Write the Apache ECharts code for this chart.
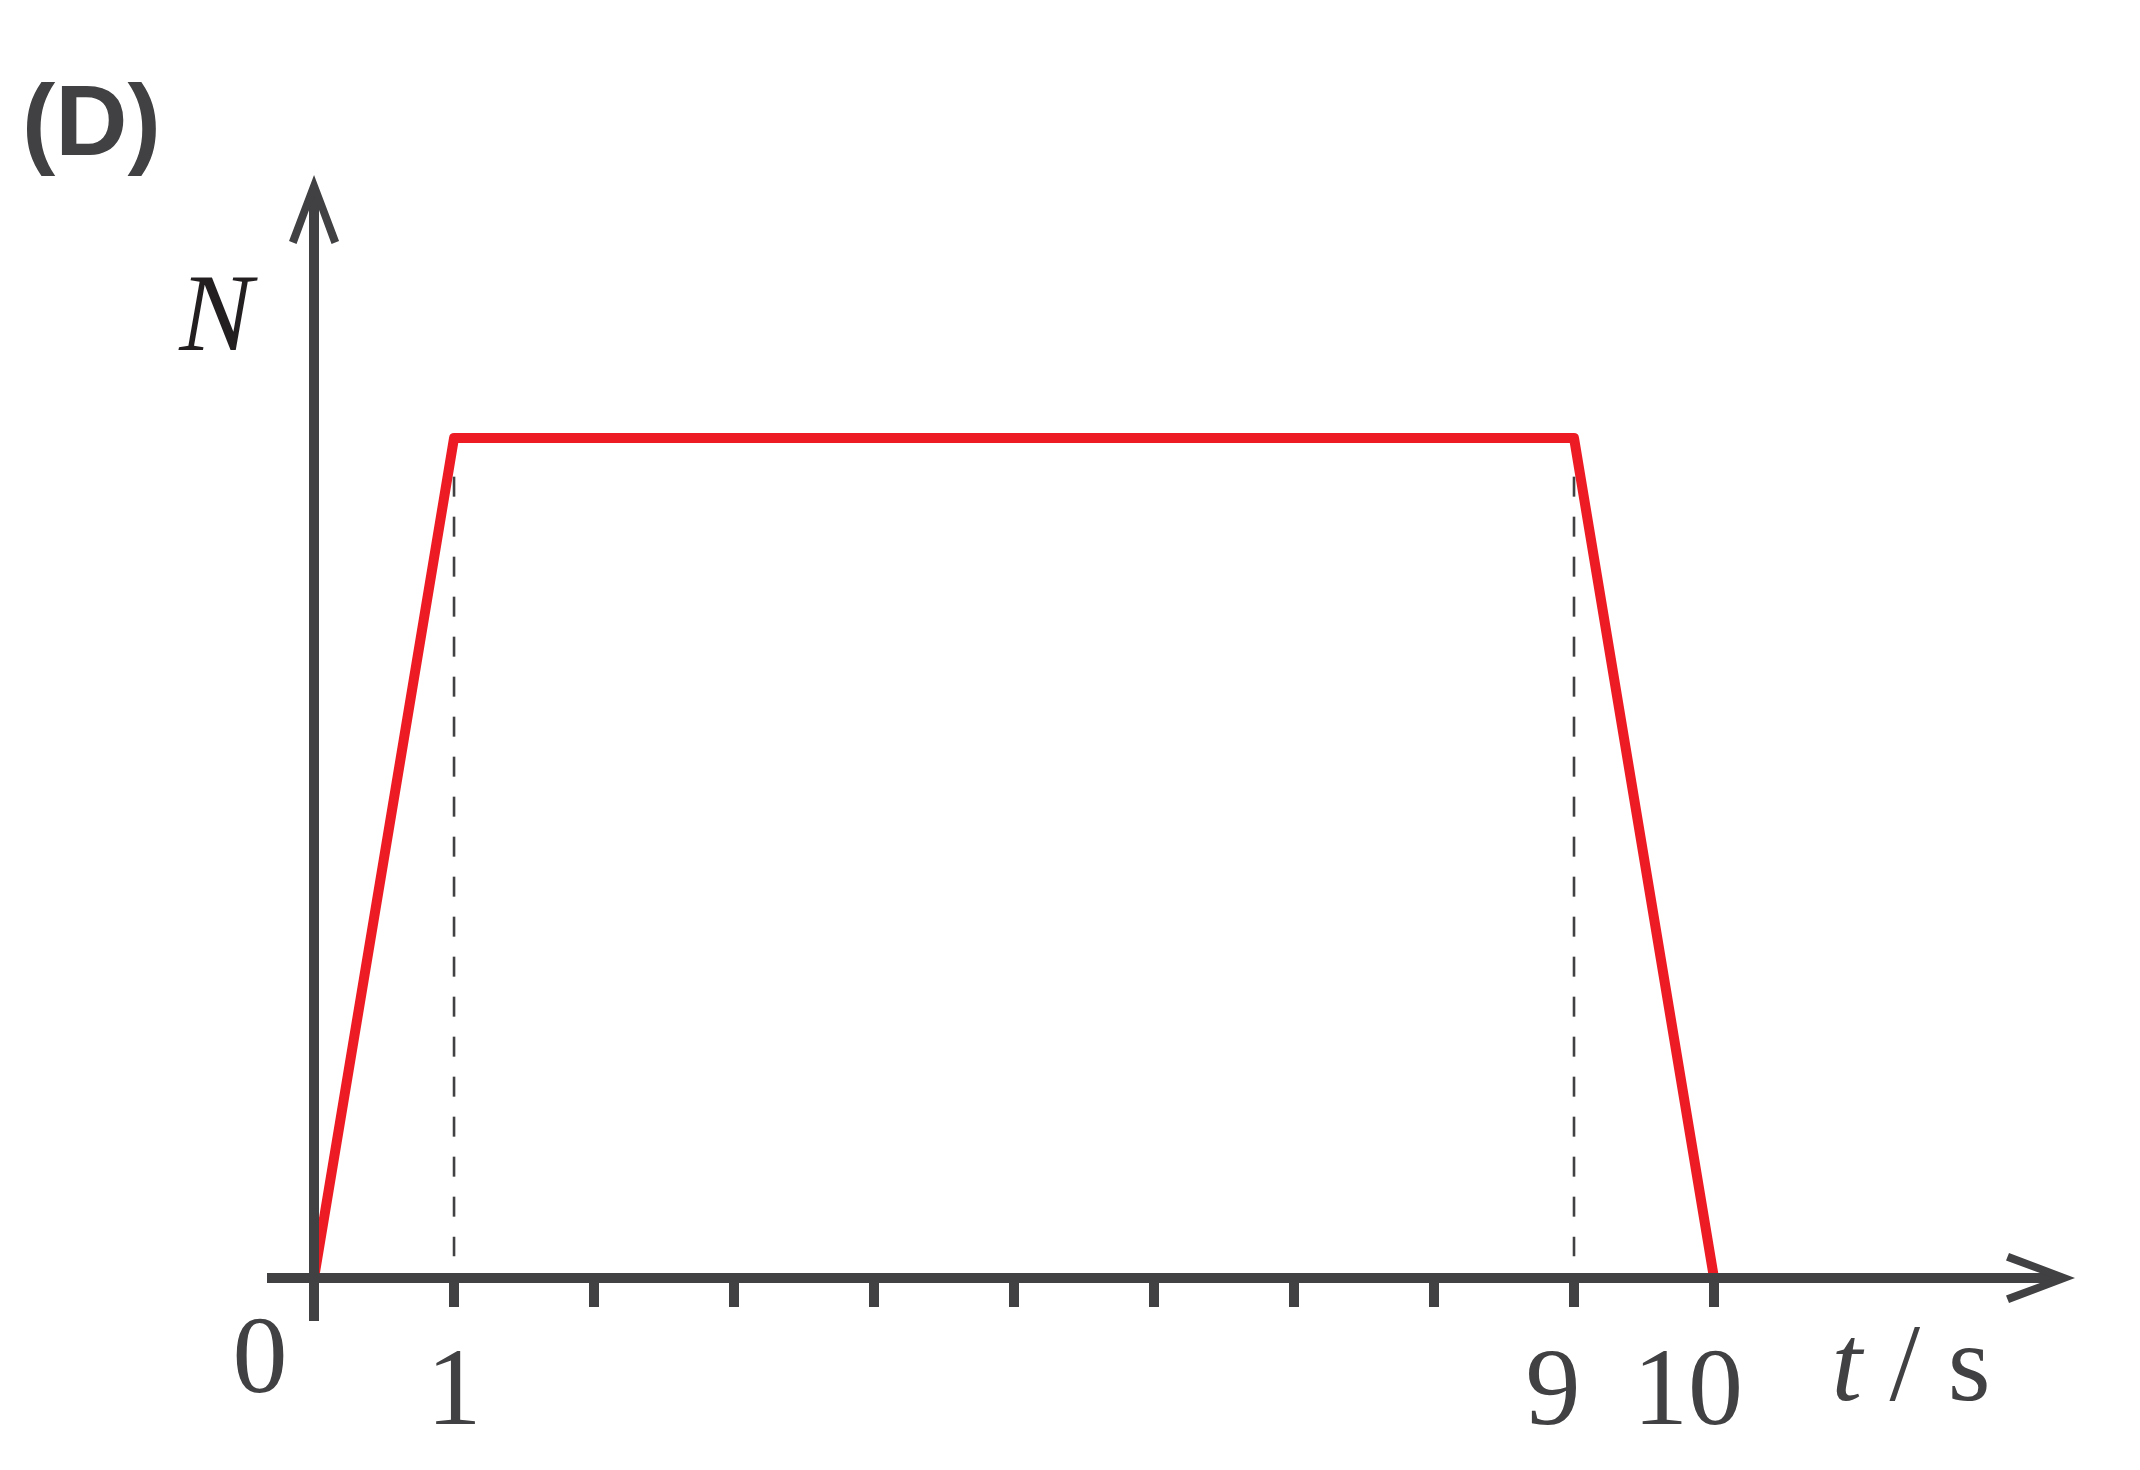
<!DOCTYPE html>
<html><head><meta charset="utf-8">
<script src="https://cdn.jsdelivr.net/npm/echarts@6/dist/echarts.min.js"></script>
<style>html,body{margin:0;padding:0;background:#fff}#c{width:2140px;height:1470px}</style>
</head><body><div id="c"></div>
<script>
// ---- data ----
const timeS = [0, 1, 9, 10];          // t / s
const forceN = [0, 1, 1, 0];          // N (relative)
const dashX = [1, 9];                 // dashed guide positions
const dashTop = 0.954;
const dashBottom = 0.026;
const tickValues = [1, 2, 3, 4, 5, 6, 7, 8, 9, 10];
const labelValues = [0, 1, 9, 10];
const xRange = [-0.336, 12.45];
const yRange = [-0.0512, 1.2917];

const gray = '#414042';
const red = '#ed1c24';
const serif = '"Liberation Serif", "Times New Roman", Times, serif';
const sans = '"Liberation Sans", Arial, Helvetica, sans-serif';
const chevron = 'path://M25,0 L50,66 L42.5,69 L25,21.5 L7.5,69 L0,66 Z';

const redData = timeS.map((t, i) => [t, forceN[i]]);
const dashSeries = dashX.map(x => ({
  type: 'line', data: [[x, dashTop], [x, dashBottom]], symbol: 'none', silent: true, z: 1,
  lineStyle: { color: gray, width: 2.6, type: [20, 20] }
}));

const labelKey = { 0: 'z', 1: 'a', 9: 'b', 10: 'c' };

const chart = echarts.init(document.getElementById('c'), null, { renderer: 'canvas' });
chart.setOption({
  animation: false,
  backgroundColor: '#fff',
  title: {
    text: '(D)', left: 17, top: 72,
    textStyle: { fontFamily: sans, fontWeight: 'bold', fontSize: 100, color: gray }
  },
  grid: { left: 267, right: 83, top: 193, bottom: 149, containLabel: false, outerBoundsMode: 'none' },
  xAxis: {
    type: 'value', min: xRange[0], max: xRange[1], z: 3,
    name: '{i|t} / s', nameLocation: 'end', nameGap: -146,
    nameTextStyle: { fontFamily: serif, fontSize: 110, color: gray, align: 'center', verticalAlign: 'middle',
      padding: [186, 0, 0, 0],
      rich: { i: { fontFamily: serif, fontStyle: 'italic', fontSize: 110, color: gray } } },
    axisLine: { onZero: true, lineStyle: { color: gray, width: 10, cap: 'butt' },
      symbol: ['none', chevron], symbolSize: [50, 69], symbolOffset: [0, -16.5] },
    axisTick: { show: true, customValues: tickValues, length: 29, lineStyle: { color: gray, width: 10, cap: 'butt' } },
    axisLabel: {
      show: true, customValues: labelValues, margin: 19, hideOverlap: false,
      formatter: v => '{' + labelKey[v] + '|' + v + '}',
      rich: {
        z: { fontFamily: serif, fontSize: 110, color: gray, lineHeight: 46, padding: [0, 108, 0, 0] },
        a: { fontFamily: serif, fontSize: 110, color: gray, lineHeight: 110 },
        b: { fontFamily: serif, fontSize: 110, color: gray, lineHeight: 110, padding: [0, 42, 0, 0] },
        c: { fontFamily: serif, fontSize: 110, color: gray, lineHeight: 110, padding: [0, 52, 0, 0] }
      }
    },
    splitLine: { show: false }
  },
  yAxis: {
    type: 'value', min: yRange[0], max: yRange[1], z: 3,
    name: 'N', nameLocation: 'end', nameGap: -128,
    nameTextStyle: { fontFamily: serif, fontStyle: 'italic', fontSize: 110, color: '#231f20',
      align: 'center', verticalAlign: 'middle', padding: [0, 196, 0, 0] },
    axisLine: { onZero: true, lineStyle: { color: gray, width: 10, cap: 'butt' },
      symbol: ['none', chevron], symbolSize: [50, 69], symbolOffset: [0, -16.5] },
    axisTick: { show: false },
    axisLabel: { show: false },
    splitLine: { show: false }
  },
  series: [
    {
      type: 'line', data: redData, symbol: 'none', silent: true, z: 1,
      lineStyle: { color: red, width: 10, join: 'round' }
    },
    ...dashSeries
  ]
});
</script></body></html>
